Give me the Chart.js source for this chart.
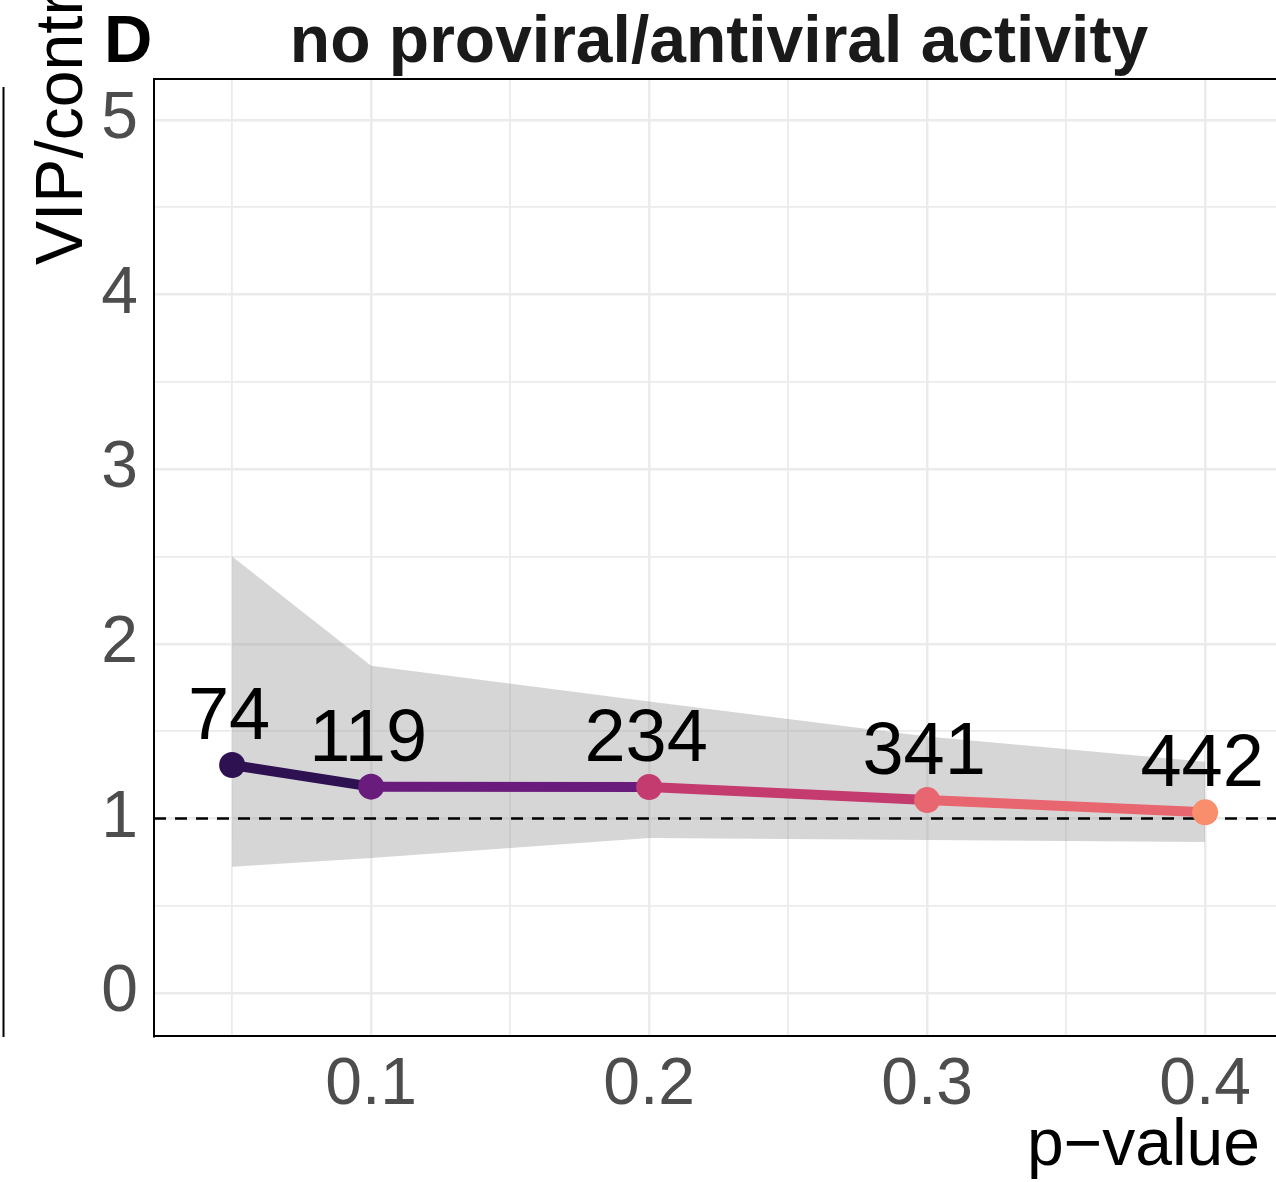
<!DOCTYPE html>
<html>
<head>
<meta charset="utf-8">
<script src="https://cdn.jsdelivr.net/npm/chart.js@4"></script>
<style>
  body { margin: 0; background: #fff; overflow: hidden; }
  canvas { display: block; }
</style>
</head>
<body>
<canvas id="chart" width="1276" height="1182"></canvas>
<script>
// data
const pValues = [0.05, 0.1, 0.2, 0.3, 0.4]
const ratio = [1.306, 1.182, 1.18, 1.105, 1.035]
const ribbonUpper = [2.50, 1.875, 1.67, 1.47, 1.325]
const ribbonLower = [0.723, 0.773, 0.888, 0.876, 0.865]
const counts = [74, 119, 234, 341, 442]
const pointColors = ['#2d1150', '#6a1c7c', '#c43c6f', '#e8666f', '#f98e6d']
const xTicks = [0.05, 0.1, 0.15, 0.2, 0.25, 0.3, 0.35, 0.4]
const xLabels = [0.1, 0.2, 0.3, 0.4]
const yTicks = [0, 0.5, 1, 1.5, 2, 2.5, 3, 3.5, 4, 4.5, 5]
const yLabels = [0, 1, 2, 3, 4, 5]
const refLine = 1

const FONT = '"Liberation Sans", Arial, sans-serif'
const xMin = 0.0219, xMax = 0.4255
const yMin = -0.246, yMax = 5.235

function pts(ys) {
    return pValues.map((p, i) => ({x: p, y: ys[i]}))
}

function isMajor(v, list) {
    return list.some(l => Math.abs(l - v) < 1e-9)
}

const extras = {
    id: 'extras',
    afterDatasetsDraw(chart) {
        const ctx = chart.ctx
        const meta = chart.getDatasetMeta(0)
        ctx.save()
        // count labels above the points
        ctx.fillStyle = '#000'
        ctx.font = '74px ' + FONT
        ctx.textAlign = 'center'
        ctx.textBaseline = 'alphabetic'
        meta.data.forEach((pt, i) => {
            ctx.fillText(String(counts[i]), pt.x - 3, pt.y - 26)
        })
        ctx.restore()
    },
    afterDraw(chart) {
        const ctx = chart.ctx
        const a = chart.chartArea
        ctx.save()
        // top border of the panel
        ctx.strokeStyle = '#000'
        ctx.lineWidth = 2
        ctx.beginPath()
        ctx.moveTo(a.left - 1, a.top)
        ctx.lineTo(chart.width, a.top)
        ctx.stroke()
        // edge of the neighbouring panel
        ctx.beginPath()
        ctx.moveTo(3.5, 87)
        ctx.lineTo(3.5, a.bottom + 1)
        ctx.stroke()

        ctx.textBaseline = 'alphabetic'
        ctx.fillStyle = '#000'
        ctx.font = 'bold 67px ' + FONT
        ctx.textAlign = 'left'
        ctx.fillText('D', 104, 62)
        ctx.fillStyle = '#1a1a1a'
        ctx.font = 'bold 66px ' + FONT
        ctx.textAlign = 'center'
        ctx.fillText('no proviral/antiviral activity', 719, 62)

        ctx.fillStyle = '#000'
        ctx.font = '66px ' + FONT
        ctx.textAlign = 'right'
        ctx.fillText('p\u2212value', 1260, 1165)

        ctx.translate(82, 265)
        ctx.rotate(-Math.PI / 2)
        ctx.font = '66px ' + FONT
        ctx.textAlign = 'left'
        ctx.fillText('VIP/control ratio', 0, 0)
        ctx.restore()
    }
}

new Chart(document.getElementById('chart'), {
    type: 'line',
    data: {
        datasets: [
            {
                data: pts(ratio),
                borderWidth: 10,
                borderColor: pointColors[0],
                segment: { borderColor: c => pointColors[c.p0DataIndex] },
                pointRadius: 13,
                pointBackgroundColor: pointColors,
                pointBorderWidth: 0,
                fill: false,
                order: 0
            },
            {
                data: [{x: xMin, y: refLine}, {x: xMax, y: refLine}],
                borderColor: '#000',
                borderWidth: 2.5,
                borderDash: [12, 9],
                pointRadius: 0,
                fill: false,
                order: 1
            },
            {
                data: pts(ribbonLower),
                borderWidth: 0,
                pointRadius: 0,
                fill: false,
                order: 3
            },
            {
                data: pts(ribbonUpper),
                borderWidth: 0,
                pointRadius: 0,
                backgroundColor: 'rgba(153,153,153,0.4)',
                fill: '-1',
                order: 2
            }
        ]
    },
    options: {
        responsive: false,
        animation: false,
        layout: { autoPadding: false, padding: { top: 79, left: 0, right: 0, bottom: 0 } },
        plugins: {
            legend: { display: false },
            tooltip: { enabled: false },
            title: { display: false }
        },
        elements: { line: { tension: 0 } },
        scales: {
            x: {
                type: 'linear',
                min: xMin,
                max: xMax,
                afterBuildTicks: s => { s.ticks = xTicks.map(v => ({value: v})) },
                afterFit: s => {
                    s.height = 146
                    s.paddingLeft = 0
                    s.paddingRight = 0
                },
                grid: {
                    color: '#ebebeb',
                    lineWidth: c => isMajor(c.tick.value, xLabels) ? 2.5 : 1.8,
                    drawTicks: false
                },
                border: { display: true, color: '#000', width: 2 },
                ticks: {
                    autoSkip: false,
                    maxRotation: 0,
                    padding: 10,
                    color: '#4d4d4d',
                    font: { family: FONT, size: 66 },
                    callback: v => isMajor(v, xLabels) ? String(v) : ''
                }
            },
            y: {
                type: 'linear',
                min: yMin,
                max: yMax,
                afterBuildTicks: s => { s.ticks = yTicks.map(v => ({value: v})) },
                afterFit: s => {
                    s.width = 154
                    s.paddingTop = 0
                    s.paddingBottom = 0
                },
                grid: {
                    color: '#ebebeb',
                    lineWidth: c => isMajor(c.tick.value, yLabels) ? 2.5 : 1.8,
                    drawTicks: false
                },
                border: { display: true, color: '#000', width: 2 },
                ticks: {
                    autoSkip: false,
                    padding: 16,
                    color: '#4d4d4d',
                    font: { family: FONT, size: 66 },
                    callback: v => isMajor(v, yLabels) ? String(v) : ''
                }
            }
        }
    },
    plugins: [extras]
})
</script>
</body>
</html>
